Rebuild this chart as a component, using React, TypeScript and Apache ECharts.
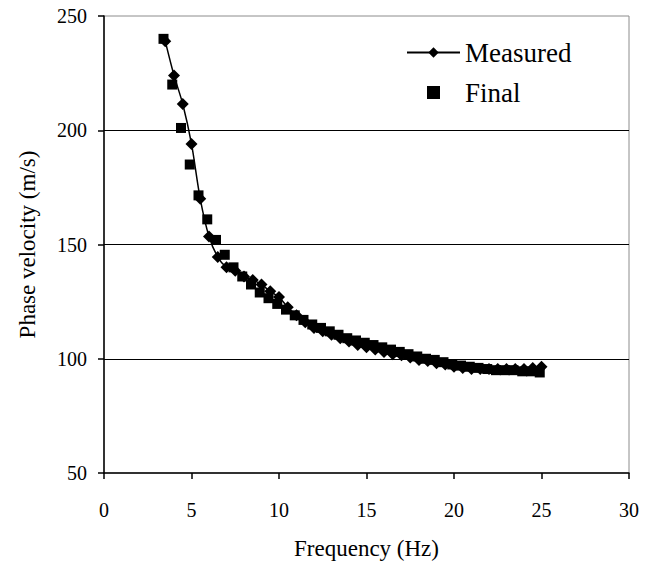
import React, { useEffect, useRef } from "react";
import * as echarts from "echarts";

const measuredX = [
  3.5, 4.0, 4.5, 5.0, 5.5, 6.0, 6.5, 7.0, 7.5, 8.0, 8.5, 9.0, 9.5, 10.0, 10.5, 11.0,
  11.5, 12.0, 12.5, 13.0, 13.5, 14.0, 14.5, 15.0, 15.5, 16.0, 16.5, 17.0, 17.5, 18.0,
  18.5, 19.0, 19.5, 20.0, 20.5, 21.0, 21.5, 22.0, 22.5, 23.0, 23.5, 24.0, 24.5, 25.0,
];
const measuredY = [
  239, 224, 211.5, 194, 170, 153.5, 144.5, 140, 138.5, 136, 134.5, 132.5, 129.5, 127, 122.5, 119,
  116, 113.5, 112, 110.5, 109, 107.5, 106, 105, 104, 103, 102, 101.5, 100.5, 99.5,
  99, 98, 97.5, 96.5, 96, 95.5, 95.5, 95.5, 95.5, 95.5, 95.5, 95.5, 96, 96.5,
];
const finalX = [
  3.4, 3.9, 4.4, 4.9, 5.4, 5.9, 6.4, 6.9, 7.4, 7.9, 8.4, 8.9, 9.4, 9.9, 10.4, 10.9,
  11.4, 11.9, 12.4, 12.9, 13.4, 13.9, 14.4, 14.9, 15.4, 15.9, 16.4, 16.9, 17.4, 17.9,
  18.4, 18.9, 19.4, 19.9, 20.4, 20.9, 21.4, 21.9, 22.4, 22.9, 23.4, 23.9, 24.4, 24.9,
];
const finalY = [
  240, 220, 201, 185, 171.5, 161, 152, 145.5, 140, 136, 132.5, 129, 126.5, 124, 121.5, 119,
  117, 115, 113.5, 112, 110.5, 109, 108, 107, 106, 105, 104, 103, 102, 101,
  100, 99.5, 98.5, 97.5, 97, 96.5, 96, 95.5, 95, 95, 95, 94.5, 94.5, 94,
];
const xTicks = [0, 5, 10, 15, 20, 25, 30];
const yTicks = [50, 100, 150, 200, 250];

const FONT = "'Liberation Serif', 'Times New Roman', 'DejaVu Serif', serif";

export default function App() {
  const ref = useRef<HTMLDivElement>(null);
  useEffect(() => {
    if (!ref.current) return;
    const chart = echarts.init(ref.current, null, { renderer: "svg" });
    const measured = measuredX.map((x, i) => [x, measuredY[i]]);
    const final = finalX.map((x, i) => [x, finalY[i]]);
    chart.setOption({
      animation: false,
      backgroundColor: "#ffffff",
      textStyle: { fontFamily: FONT, color: "#000" },
      grid: {
        left: 104,
        right: 25,
        top: 16,
        bottom: 94,
        show: true,
        borderColor: "#8c8c8c",
        borderWidth: 1,
        backgroundColor: "transparent",
      },
      legend: {
        orient: "vertical",
        left: 401,
        top: 34,
        itemWidth: 53,
        itemHeight: 13,
        itemGap: 13,
        textStyle: { fontFamily: FONT, fontSize: 27, color: "#000" },
        data: [
          { name: "Measured" },
          { name: "Final", icon: "path://M0 0H10V10H0Z" },
        ],
      },
      xAxis: {
        type: "value",
        min: xTicks[0],
        max: xTicks[xTicks.length - 1],
        interval: 5,
        name: "Frequency (Hz)",
        nameLocation: "middle",
        nameGap: 64,
        nameTextStyle: { fontFamily: FONT, fontSize: 23, color: "#000" },
        axisLine: { show: true, onZero: false, lineStyle: { color: "#000", width: 1.5 } },
        axisTick: { show: true, inside: false, length: 6, lineStyle: { color: "#000", width: 1.5 } },
        axisLabel: { fontFamily: FONT, fontSize: 20, color: "#000", margin: 27 },
        splitLine: { show: false },
      },
      yAxis: {
        type: "value",
        min: yTicks[0],
        max: yTicks[yTicks.length - 1],
        interval: 50,
        name: "Phase velocity (m/s)",
        nameLocation: "middle",
        nameGap: 65,
        nameRotate: 90,
        nameTextStyle: { fontFamily: FONT, fontSize: 23, color: "#000" },
        axisLine: { show: true, onZero: false, lineStyle: { color: "#000", width: 1.5 } },
        axisTick: { show: true, inside: false, length: 6, lineStyle: { color: "#000", width: 1.5 } },
        axisLabel: { fontFamily: FONT, fontSize: 20, color: "#000", margin: 17 },
        splitLine: {
          show: true,
          showMinLine: false,
          showMaxLine: false,
          lineStyle: { color: "#000", width: 1.2 },
        },
      },
      series: [
        {
          name: "Measured",
          type: "line",
          data: measured,
          smooth: 0.3,
          symbol: "diamond",
          symbolSize: 12,
          showAllSymbol: true,
          lineStyle: { color: "#000", width: 1.5 },
          itemStyle: { color: "#000", opacity: 1 },
          z: 2,
        },
        {
          name: "Final",
          type: "scatter",
          data: final,
          symbol: "rect",
          symbolSize: 10,
          itemStyle: { color: "#000", opacity: 1 },
          z: 3,
        },
      ],
    });
    return () => chart.dispose();
  }, []);
  return (
    <div
      ref={ref}
      style={{ position: "fixed", left: 0, top: 0, width: 654, height: 567, background: "#fff" }}
    />
  );
}
